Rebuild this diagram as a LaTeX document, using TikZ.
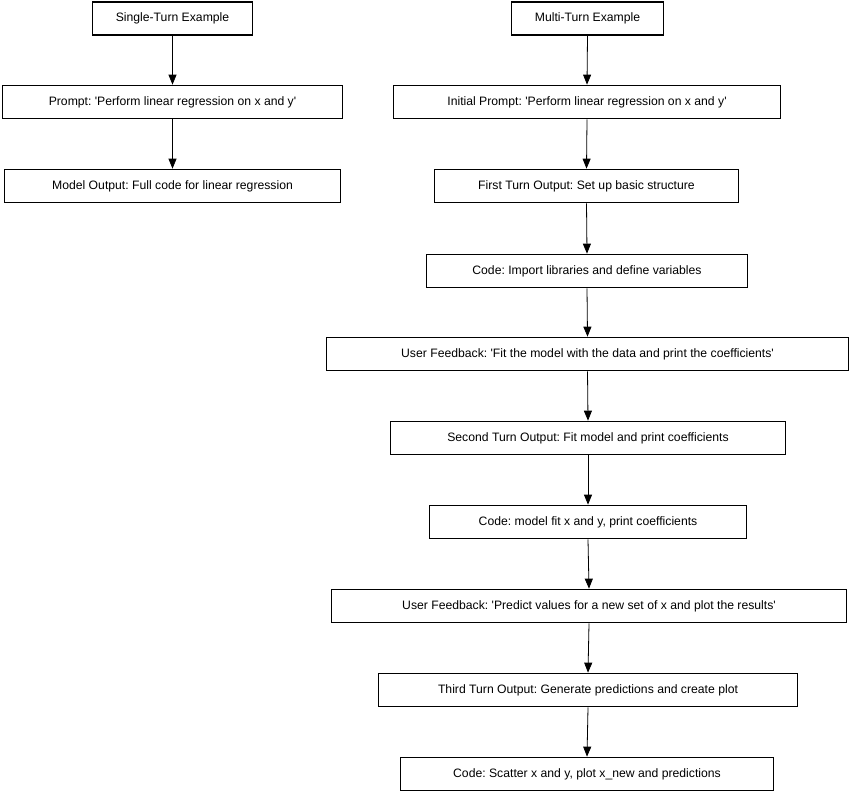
\documentclass[tikz,border=0pt]{standalone}
\usepackage{fontspec}
\setmainfont{Liberation Sans}[Ligatures=TeXOff]
\usetikzlibrary{arrows.meta}
\frenchspacing
\begin{document}
\begin{tikzpicture}[x=1pt,y=-1pt,
  box/.style={draw, line width=1.7pt, minimum height=33pt, inner sep=0pt,
    font=\fontsize{12.2}{14}\selectfont\frenchspacing},
  arr/.style={-{Triangle[width=8pt,length=10pt]}, line width=0.8pt}]
\useasboundingbox (0,0) rectangle (850,792);
% left column
\node[box, minimum width=160pt] (s0) at (172.5,18.5) {Single-Turn Example};
\node[box, minimum width=340pt] (s1) at (172.5,102) {Prompt: 'Perform linear regression on x and y'};
\node[box, minimum width=336pt] (s2) at (172.5,186) {Model Output: Full code for linear regression};
% right column
\node[box, minimum width=152pt] (m0) at (587.5,18.5) {Multi-Turn Example};
\node[box, minimum width=387pt] (m1) at (587,102) {Initial Prompt: 'Perform linear regression on x and y'};
\node[box, minimum width=304pt] (m2) at (586.5,186) {First Turn Output: Set up basic structure};
\node[box, minimum width=321pt] (m3) at (587,271) {Code: Import libraries and define variables};
\node[box, minimum width=522pt] (m4) at (587.5,354) {User Feedback: 'Fit the model with the data and print the coefficients'};
\node[box, minimum width=395pt] (m5) at (588,438) {Second Turn Output: Fit model and print coefficients};
\node[box, minimum width=317pt] (m6) at (588,522) {Code: model fit x and y, print coefficients};
\node[box, minimum width=515pt] (m7) at (589,606) {User Feedback: 'Predict values for a new set of x and plot the results'};
\node[box, minimum width=419pt] (m8) at (588,690) {Third Turn Output: Generate predictions and create plot};
\node[box, minimum width=373pt] (m9) at (587,774) {Code: Scatter x and y, plot x\_new and predictions};
% arrows
\draw[arr] (s0.south) -- (s1.north);
\draw[arr] (s1.south) -- (s2.north);
\foreach \a/\b in {m0/m1,m1/m2,m2/m3,m3/m4,m4/m5,m5/m6,m6/m7,m7/m8,m8/m9}
  \draw[arr] (\a.south) -- (\b.north);
\end{tikzpicture}
\end{document}
